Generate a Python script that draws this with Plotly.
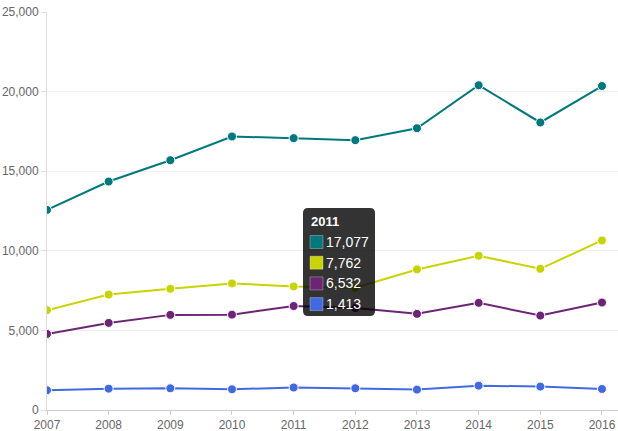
import plotly.graph_objects as go

years = [2007, 2008, 2009, 2010, 2011, 2012, 2013, 2014, 2015, 2016]
teal_values = [12570, 14350, 15690, 17180, 17077, 16950, 17700, 20400, 18060, 20350]
yellow_values = [6270, 7250, 7610, 7950, 7762, 7680, 8830, 9690, 8870, 10650]
purple_values = [4780, 5470, 5975, 5990, 6532, 6400, 6040, 6730, 5930, 6750]
blue_values = [1240, 1340, 1365, 1300, 1413, 1365, 1280, 1530, 1470, 1320]
y_ticks = [0, 5000, 10000, 15000, 20000, 25000]
hover_year = 2011

series = [
    ("Series 1", teal_values, "#00787c"),
    ("Series 2", yellow_values, "#c8d400"),
    ("Series 3", purple_values, "#6c2574"),
    ("Series 4", blue_values, "#4169e1"),
]

W, H = 618, 431
ML, MR, MT, MB = 47, 0, 12, 21

fig = go.Figure()
for name, vals, color in series:
    fig.add_trace(go.Scatter(
        x=years, y=vals, name=name, mode="lines+markers",
        line=dict(color=color, width=2),
        marker=dict(color=color, size=9, line=dict(color="white", width=1)),
    ))


# tooltip drawn as static decoration (pixel -> paper helpers)
def px(x):
    return (x - ML) / (W - ML - MR)


def py(y):
    return (H - MB - y) / (H - MT - MB)


def rounded_box(x0, y0, x1, y1, r):
    pts = [
        f"M {px(x0 + r)},{py(y0)}",
        f"L {px(x1 - r)},{py(y0)}",
        f"Q {px(x1)},{py(y0)} {px(x1)},{py(y0 + r)}",
        f"L {px(x1)},{py(y1 - r)}",
        f"Q {px(x1)},{py(y1)} {px(x1 - r)},{py(y1)}",
        f"L {px(x0 + r)},{py(y1)}",
        f"Q {px(x0)},{py(y1)} {px(x0)},{py(y1 - r)}",
        f"L {px(x0)},{py(y0 + r)}",
        f"Q {px(x0)},{py(y0)} {px(x0 + r)},{py(y0)}",
        "Z",
    ]
    return " ".join(pts)


idx = years.index(hover_year)
fig.add_shape(type="path", xref="paper", yref="paper",
              path=rounded_box(303, 208, 375, 316, 5),
              fillcolor="rgba(0,0,0,0.8)", line=dict(width=0), layer="above")
fig.add_annotation(xref="paper", yref="paper", x=px(309), y=py(221),
                   text=f"<b>{hover_year}</b>", showarrow=False,
                   xanchor="left", yanchor="middle",
                   font=dict(color="white", size=13, family="Liberation Sans, Arial"))
for i, (name, vals, color) in enumerate(series):
    cy = 242 + i * 20.7
    fig.add_shape(type="rect", xref="paper", yref="paper",
                  x0=px(310), x1=px(323), y0=py(cy - 6.5), y1=py(cy + 6.5),
                  fillcolor=color, line=dict(color="rgba(255,255,255,0.3)", width=1),
                  layer="above")
    fig.add_annotation(xref="paper", yref="paper", x=px(324), y=py(cy),
                       text=f"{vals[idx]:,}", showarrow=False,
                       xanchor="left", yanchor="middle",
                       font=dict(color="white", size=14, family="Liberation Sans, Arial"))

fig.update_layout(
    width=W, height=H,
    margin=dict(l=ML, r=MR, t=MT, b=MB),
    plot_bgcolor="white", paper_bgcolor="white",
    showlegend=False,
    font=dict(family="Liberation Sans, Arial", size=12, color="#666"),
)
fig.update_xaxes(
    range=[2007, 2016.26], tickvals=years, tickformat="d",
    showgrid=False, showline=True, linecolor="#ccc", linewidth=1,
    ticks="outside", ticklen=4, tickcolor="#ccc", zeroline=False,
)
fig.update_yaxes(
    range=[0, 25000], tickvals=y_ticks, tickformat=",",
    showgrid=True, gridcolor="#eee", gridwidth=1,
    showline=True, linecolor="#ddd", linewidth=1,
    ticks="outside", ticklen=5, tickcolor="#ddd", zeroline=False,
)

fig.write_html("out.html", config={"displayModeBar": False},
               post_script="document.body.style.margin='0';")
